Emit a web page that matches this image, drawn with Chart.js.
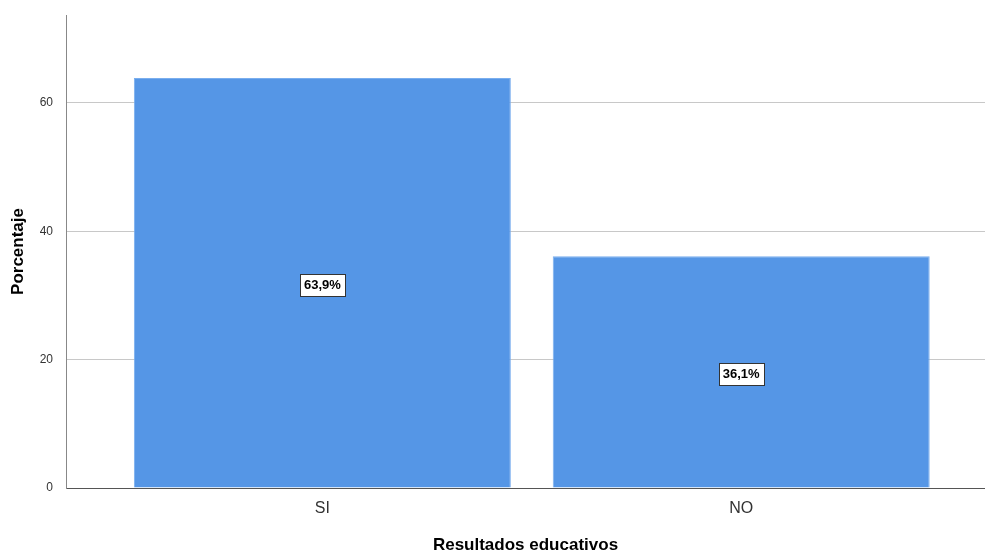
<!DOCTYPE html>
<html>
<head>
<meta charset="utf-8">
<script src="https://cdn.jsdelivr.net/npm/chart.js@4"></script>
<style>
html,body{margin:0;padding:0;background:#fff;}
#wrap{width:985px;height:553px;position:relative;}
</style>
</head>
<body>
<div id="wrap"><canvas id="c"></canvas></div>
<script>
const categories = ["SI", "NO"];
const percentages = [63.9, 36.1];
const valueLabels = ["63,9%", "36,1%"];
const yTicks = [0, 20, 40, 60];

const labelPlugin = {
  id: 'boxLabels',
  afterDatasetsDraw(chart) {
    const ctx = chart.ctx;
    const meta = chart.getDatasetMeta(0);
    ctx.save();
    ctx.font = 'bold 13px "Liberation Sans", Arial, sans-serif';
    ctx.textAlign = 'center';
    ctx.textBaseline = 'middle';
    meta.data.forEach((bar, i) => {
      const txt = valueLabels[i];
      const cx = bar.x;
      const cy = (bar.y + bar.base) / 2 + 2;
      const w = ctx.measureText(txt).width + 8;
      const h = 22;
      ctx.fillStyle = '#ffffff';
      ctx.fillRect(Math.round(cx - w / 2) + 0.5, Math.round(cy - h / 2) + 0.5, Math.round(w), h);
      ctx.strokeStyle = '#333333';
      ctx.lineWidth = 1;
      ctx.strokeRect(Math.round(cx - w / 2) + 0.5, Math.round(cy - h / 2) + 0.5, Math.round(w), h);
      ctx.fillStyle = '#000000';
      ctx.fillText(txt, cx, cy + 1);
    });
    ctx.restore();
  }
};

new Chart(document.getElementById('c'), {
  type: 'bar',
  data: {
    datasets: [{
      data: categories.map((c, i) => ({ x: i, y: percentages[i] })),
      backgroundColor: '#5596E6',
      borderColor: '#7aaeee',
      borderWidth: 1,
      barPercentage: 0.9,
      categoryPercentage: 1.0
    }]
  },
  options: {
    responsive: true,
    maintainAspectRatio: false,
    animation: false,
    layout: { padding: { top: 15, right: 0, left: 0, bottom: 0 } },
    plugins: { legend: { display: false }, tooltip: { enabled: false } },
    scales: {
      x: {
        type: 'linear',
        offset: false,
        min: -0.612,
        max: 1.582,
        afterBuildTicks(scale) { scale.ticks = categories.map((c, i) => ({ value: i })); },
        afterFit(scale) { scale.height = 65; scale.paddingLeft = 0; scale.paddingRight = 0; },
        grid: { display: false, drawTicks: false, offset: false },
        border: { display: true, color: '#555555', width: 1 },
        ticks: {
          padding: 11,
          color: '#333333',
          font: { family: '"Liberation Sans", Arial, sans-serif', size: 16 },
          callback: (v) => categories[v] !== undefined ? categories[v] : ''
        },
        title: {
          display: true,
          text: 'Resultados educativos',
          color: '#000000',
          font: { family: '"Liberation Sans", Arial, sans-serif', size: 17, weight: 'bold' },
          padding: { top: 0, bottom: -3 }
        }
      },
      y: {
        min: 0,
        max: 73.7,
        afterBuildTicks(scale) { scale.ticks = yTicks.map(v => ({ value: v })); },
        afterFit(scale) { scale.width = 66; scale.paddingTop = 0; scale.paddingBottom = 0; },
        grid: { color: '#c8c8c8', lineWidth: 1, drawTicks: false },
        border: { display: true, color: '#888888', width: 1 },
        ticks: {
          padding: 13,
          color: '#333333',
          font: { family: '"Liberation Sans", Arial, sans-serif', size: 12 }
        },
        title: {
          display: true,
          text: 'Porcentaje',
          color: '#000000',
          font: { family: '"Liberation Sans", Arial, sans-serif', size: 17, weight: 'bold' },
          padding: { top: 8, bottom: 0 }
        }
      }
    }
  },
  plugins: [labelPlugin]
});
</script>
</body>
</html>
